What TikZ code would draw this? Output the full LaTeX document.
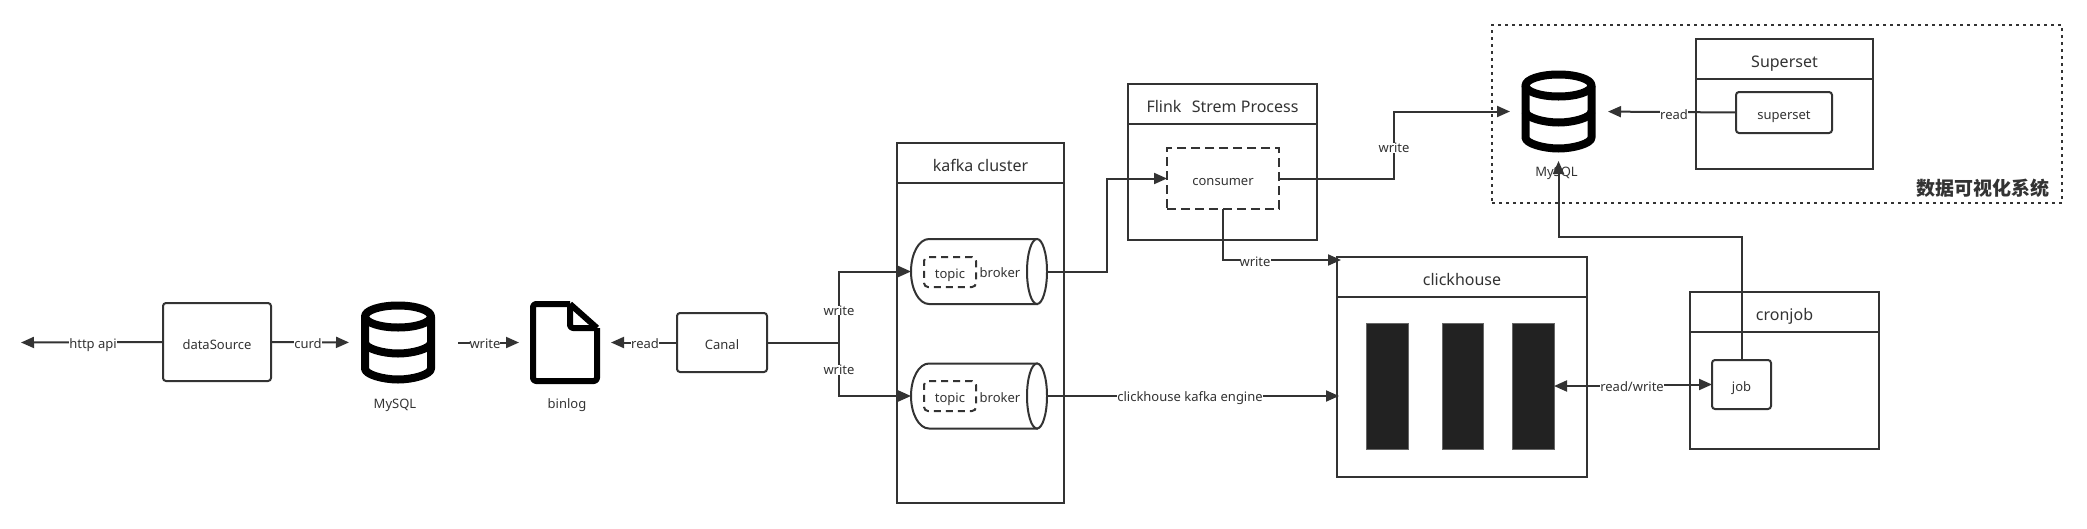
\documentclass[tikz,border=0pt]{standalone}
\usepackage{fontspec}
\setmainfont{Noto Sans}
\newfontfamily\cjkfont{Noto Sans CJK SC}
\usetikzlibrary{arrows.meta}
\definecolor{ink}{HTML}{333333}
\definecolor{barfill}{HTML}{222222}
\newcommand{\bx}[7]{\node[#1,minimum width={#5-#3},minimum height={#6-#4}] (#2) at ({(#3+#5)/2},{(#4+#6)/2}) {#7};}
\tikzset{
  x=1pt,y=-1pt,
  every node/.style={inner sep=0pt,outer sep=0pt,text=ink},
  swim/.style={draw=ink,line width=2.2pt,fill=white,font=\fontsize{16}{18}\selectfont,text height=16.6pt,text depth=0pt},
  plainbox/.style={draw=ink,line width=2pt,fill=white,rounded corners=3pt,font=\fontsize{13}{15}\selectfont,text height=14pt,text depth=0pt},
  dashbox/.style={draw=ink,line width=2pt,fill=white,dash pattern=on 9pt off 5pt,font=\fontsize{13}{15}\selectfont,text height=13.4pt,text depth=0pt},
  topicbox/.style={draw=ink,line width=2pt,dash pattern=on 7pt off 5pt,rounded corners=4pt,font=\fontsize{13}{15}\selectfont,text height=12.6pt,text depth=0pt},
  ghost/.style={},
  lbl/.style={fill=white,font=\fontsize{13}{15}\selectfont},
  captext/.style={font=\fontsize{13}{15}\selectfont},
  conn/.style={draw=ink,line width=2pt,-{Triangle[length=13pt,width=11pt]}},
  conntwo/.style={draw=ink,line width=2pt,{Triangle[length=13pt,width=11pt]}-{Triangle[length=13pt,width=11pt]}},
  iconline/.style={draw=black,line width=8pt,line join=round},
  fileline/.style={draw=black,line width=6pt,line join=round,rounded corners=3pt},
  barbox/.style={draw=black!60,line width=1pt,fill=barfill},
  cyl/.style={draw=ink,line width=2pt,fill=white},
}
\newcommand{\dbicon}[1]{%
  \begin{scope}[shift={(#1.center)}]
    \draw[iconline] (0,-26) ellipse [x radius=33pt,y radius=11pt];
    \draw[iconline] (-33,-26) -- (-33,26) .. controls (-33,32) and (-15,37) .. (0,37) .. controls (15,37) and (33,32) .. (33,26) -- (33,-26);
    \draw[iconline] (-33,0) .. controls (-33,6) and (-15,11) .. (0,11) .. controls (15,11) and (33,6) .. (33,0);
  \end{scope}}
\newcommand{\cylicon}[1]{%
  \begin{scope}[shift={(#1.center)}]
    \draw[cyl] (50,-32.5) -- (-50,-32.5) .. controls (-60,-32.5) and (-68,-18) .. (-68,0) .. controls (-68,18) and (-60,32.5) .. (-50,32.5) -- (58,32.5) -- (58,-32.5) -- cycle;
    \draw[cyl] (58,0) ellipse [x radius=10pt,y radius=32.5pt];
  \end{scope}}
\begin{document}
\begin{tikzpicture}
\useasboundingbox (0,0) rectangle (2087,528);
% containers
\bx{draw=ink,line width=2.5pt,dash pattern=on 3pt off 4pt}{vizgroup}{1492}{25}{2062}{203}{}
\bx{swim}{kafka}{897}{143}{1064}{503}{}
\bx{swim}{kafkaT}{897}{143}{1064}{183}{kafka cluster}
\bx{swim}{flink}{1128}{84}{1317}{240}{}
\bx{swim}{flinkT}{1128}{84}{1317}{124}{Flink\ \ \hspace{2pt}Strem Process}
\bx{swim}{clickhouse}{1337}{257}{1587}{477}{}
\bx{swim}{clickhouseT}{1337}{257}{1587}{297}{clickhouse}
\bx{swim}{cronjob}{1690}{292}{1879}{449}{}
\bx{swim}{cronjobT}{1690}{292}{1879}{332}{cronjob}
\bx{swim}{superset}{1696}{39}{1873}{169}{}
\bx{swim}{supersetT}{1696}{39}{1873}{79}{Superset}
% plain nodes
\bx{plainbox}{dataSource}{163}{303}{271}{381}{dataSource}
\bx{plainbox}{canal}{677}{313}{767}{372}{Canal}
\bx{plainbox}{job}{1712}{360}{1771}{409}{job}
\bx{plainbox}{supersetN}{1736}{92}{1832}{133}{superset}
\bx{dashbox}{consumer}{1167}{148}{1279}{209}{consumer}
\bx{barbox}{barA}{1366}{323}{1408}{449}{}
\bx{barbox}{barB}{1442}{323}{1483.5}{449}{}
\bx{barbox}{barC}{1512.5}{323}{1554}{449}{}
% cylinders
\bx{ghost}{brokerA}{911}{239}{1047}{304}{}
\bx{ghost}{brokerB}{911}{364}{1047}{428}{}
\cylicon{brokerA}
\cylicon{brokerB}
\bx{topicbox}{topicA}{924}{257}{976}{287}{topic}
\bx{topicbox}{topicB}{924}{381}{976}{411}{topic}
\node[captext] (brokerAT) at (1000,273) {broker};
\node[captext] (brokerBT) at (1000,398) {broker};
% icons
\bx{ghost}{mysqlA}{361}{301}{435}{384}{}
\bx{ghost}{mysqlB}{1521}{70}{1596}{153}{}
\bx{ghost}{binlog}{530}{301}{600}{384}{}
\dbicon{mysqlA}
\dbicon{mysqlB}
\begin{scope}[shift={(binlog.center)}]
  \draw[fileline] (5,-38.5) -- (-32,-38.5) -- (-32,38.5) -- (32,38.5) -- (32,-14.5);
  \draw[draw=black,line width=6pt,line join=round] (32,-14.5) -- (5,-38.5);
  \draw[fileline] (5,-38.5) -- (5,-14.5) -- (32,-14.5);
\end{scope}
\node[captext] (mysqlAT) at (395,405) {MySQL};
\node[captext] (mysqlBT) at (1556.5,173) {MySQL};
\node[captext] (binlogT) at (567,405) {binlog};
% coordinates
\coordinate (apiEnd) at (21,342.5);
\coordinate (junction) at (839,342.5);
\coordinate (bendA) at (1107,225);
\coordinate (bendB) at (1394,145);
\coordinate (bendC) at (1650,237);
\coordinate (chInA) at (1341,260);
\coordinate (chInB) at (1339,396);
\coordinate (stepA) at (1632,386);
\coordinate (stepB) at (1632,384.5);
% connectors
\draw[conn] (dataSource.west) -- (apiEnd);
\draw[conn,shorten >=12pt] (dataSource.east) -- (mysqlA.west);
\draw[conn,shorten <=23pt,shorten >=11pt] (mysqlA.east) -- (binlog.west);
\draw[conn,shorten >=11pt] (canal.west) -- (binlog.east);
\draw[draw=ink,line width=2pt] (canal.east) -- (junction);
\draw[conn] (junction) |- (brokerA.west);
\draw[conn] (junction) |- (brokerB.west);
\draw[conn] (brokerA.east) -| (bendA) |- (consumer.west);
\draw[conn] (brokerB.east) -- (chInB);
\draw[conn] (consumer.south) |- (chInA);
\draw[conn,shorten >=11pt] (consumer.east) -| (bendB) |- (mysqlB.west);
\draw[conn,shorten >=12pt] (supersetN.west) -- (mysqlB.east);
\draw[conntwo] (barC.east) -- (stepA) -- (stepB) -- (job.west);
\draw[conn,shorten >=8pt] (job.north) |- (bendC) -| (mysqlB.south);
% edge labels
\node[lbl] (l1) at (93,345) {http api};
\node[lbl] (l2) at (308,344) {curd};
\node[lbl] (l3) at (485,344) {write};
\node[lbl] (l4) at (645,344) {read};
\node[lbl] (l5) at (839,310.5) {write};
\node[lbl] (l6) at (839,370) {write};
\node[lbl] (l7) at (1255,262) {write};
\node[lbl] (l8) at (1190,398) {clickhouse kafka engine};
\node[lbl] (l9) at (1394,148) {write};
\node[lbl] (l10) at (1674,115) {read};
\node[lbl] (l11) at (1632,387) {read/write};
\node[font={\cjkfont\bfseries\fontsize{19}{22}\selectfont}] (vizT) at (1983,188) {数据可视化系统};
\end{tikzpicture}
\end{document}
